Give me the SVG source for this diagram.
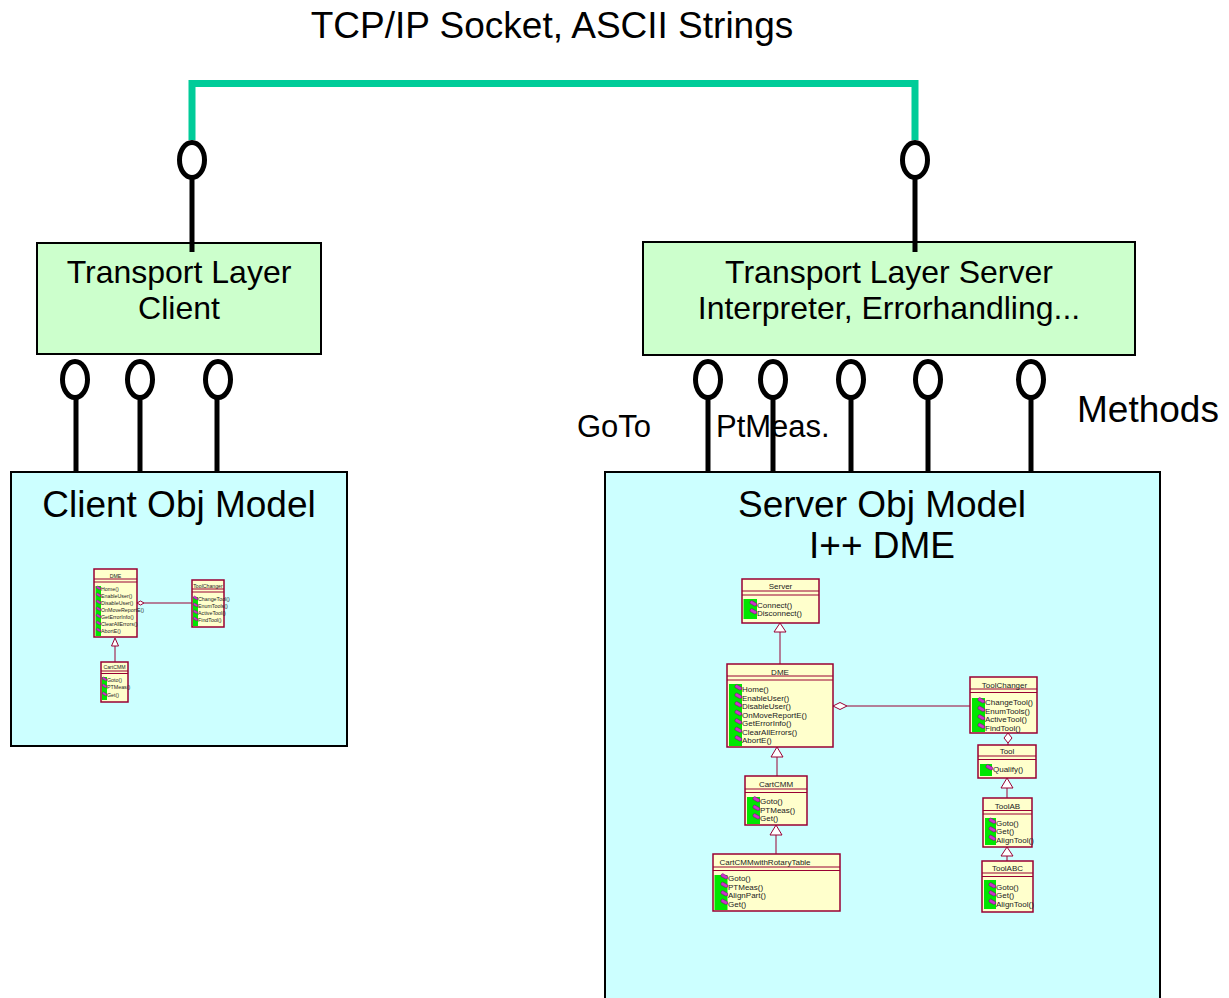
<svg xmlns="http://www.w3.org/2000/svg" width="1229" height="998" viewBox="0 0 1229 998">
<style>
.big{font-family:"Liberation Sans",Arial,sans-serif;font-size:37px;fill:#000}
.mid{font-family:"Liberation Sans",Arial,sans-serif;font-size:32px;fill:#000}
.lbl{font-family:"Liberation Sans",Arial,sans-serif;font-size:31px;fill:#000}
.tl{fill:#CCFFCC;stroke:#000;stroke-width:2}
.om{fill:#CCFFFF;stroke:#000;stroke-width:2}
.lol{fill:none;stroke:#000;stroke-width:5}
.cls{fill:#FFFFCC;stroke:#990033;stroke-width:1.5}
.sep{stroke:#990033;stroke-width:1}
.grn{fill:#00E600}
.nm{font-family:"Liberation Sans",Arial,sans-serif;font-size:8px;text-anchor:middle;fill:#222}
.op{font-family:"Liberation Sans",Arial,sans-serif;font-size:8px;fill:#222}
.nmS{font-family:"Liberation Sans",Arial,sans-serif;font-size:5.2px;text-anchor:middle;fill:#222}
.opS{font-family:"Liberation Sans",Arial,sans-serif;font-size:5.3px;fill:#222}
.lnk{fill:none;stroke:#990033;stroke-width:1}
.hd{fill:#fff;stroke:#990033;stroke-width:1}
</style>
<defs>
<path id="ic" d="M-7,-6.3 L-5.3,-7.5 L-0.3,-4.6 L-0.3,-2.6 L-2.3,-2 L-7,-4.6 Z" fill="#CC33CC" stroke="#770077" stroke-width="0.5"/>
<path id="icS" d="M-4.6,-4.2 L-3.5,-5 L-0.2,-3 L-0.2,-1.7 L-1.5,-1.3 L-4.6,-3 Z" fill="#CC33CC" stroke="#770077" stroke-width="0.4"/>
</defs>
<rect width="1229" height="998" fill="#fff"/>

<text class="big" x="552" y="38" text-anchor="middle">TCP/IP Socket, ASCII Strings</text>

<g id="transport-client">
<rect class="tl" x="37" y="243" width="284" height="111"/>
<text class="mid" x="179" y="283" text-anchor="middle">Transport Layer</text>
<text class="mid" x="179" y="319" text-anchor="middle">Client</text>
</g>

<g id="transport-server">
<rect class="tl" x="643" y="242" width="492" height="113"/>
<text class="mid" x="889" y="283" text-anchor="middle">Transport Layer Server</text>
<text class="mid" x="889" y="319" text-anchor="middle">Interpreter, Errorhandling...</text>
</g>

<g id="client-obj-model">
<rect class="om" x="11" y="472" width="336" height="274"/>
<text class="big" x="179" y="517" text-anchor="middle">Client Obj Model</text>
</g>

<g id="server-obj-model">
<rect class="om" x="605" y="472" width="555" height="540"/>
<text class="big" x="882" y="517" text-anchor="middle">Server Obj Model</text>
<text class="big" x="882" y="558" text-anchor="middle">I++ DME</text>
</g>

<g id="labels">
<text class="lbl" x="577" y="437">GoTo</text>
<text class="lbl" x="716" y="437">PtMeas.</text>
<text class="big" x="1077" y="422">Methods</text>
</g>

<g id="connectors">
<path d="M192,140 V83.5 H915 V140" fill="none" stroke="#00CC99" stroke-width="7"/>
<g id="lollipops">
<ellipse class="lol" cx="192" cy="160" rx="12.5" ry="17.5"/><line class="lol" x1="192" y1="178" x2="192" y2="252"/>
<ellipse class="lol" cx="915" cy="160" rx="12.5" ry="17.5"/><line class="lol" x1="915" y1="178" x2="915" y2="252"/>
<ellipse class="lol" cx="75" cy="379.5" rx="12.5" ry="18"/><line class="lol" x1="76" y1="398" x2="76" y2="472"/>
<ellipse class="lol" cx="140" cy="379.5" rx="12.5" ry="18"/><line class="lol" x1="140" y1="398" x2="140" y2="472"/>
<ellipse class="lol" cx="218" cy="379.5" rx="12.5" ry="18"/><line class="lol" x1="217" y1="398" x2="217" y2="472"/>
<ellipse class="lol" cx="708" cy="379.5" rx="12.5" ry="18"/><line class="lol" x1="708" y1="398" x2="708" y2="472"/>
<ellipse class="lol" cx="773" cy="379.5" rx="12.5" ry="18"/><line class="lol" x1="773" y1="398" x2="773" y2="472"/>
<ellipse class="lol" cx="851" cy="379.5" rx="12.5" ry="18"/><line class="lol" x1="851" y1="398" x2="851" y2="472"/>
<ellipse class="lol" cx="928" cy="379.5" rx="12.5" ry="18"/><line class="lol" x1="928" y1="398" x2="928" y2="472"/>
<ellipse class="lol" cx="1031" cy="379.5" rx="12.5" ry="18"/><line class="lol" x1="1031" y1="398" x2="1031" y2="472"/>
</g>
<g id="uml-links">
<line class="lnk" x1="780" y1="632" x2="780" y2="664"/><polygon class="hd" points="780,623 786,632 774,632"/>
<line class="lnk" x1="777" y1="757" x2="777" y2="776"/><polygon class="hd" points="777,747 783,757 771,757"/>
<line class="lnk" x1="776" y1="835" x2="776" y2="854"/><polygon class="hd" points="776,825 782,835 770,835"/>
<line class="lnk" x1="847" y1="706" x2="970" y2="706"/><polygon class="hd" points="833,706 840,702.5 847,706 840,709.5"/>
<line class="lnk" x1="1008" y1="743" x2="1008" y2="745"/><polygon class="hd" points="1008,733 1012,738 1008,743 1004,738"/>
<line class="lnk" x1="1007" y1="788" x2="1007" y2="798"/><polygon class="hd" points="1007,778 1013,788 1001,788"/>
<line class="lnk" x1="1007" y1="856" x2="1007" y2="861"/><polygon class="hd" points="1007,847 1013,856 1001,856"/>
<line class="lnk" x1="144" y1="603" x2="192" y2="603"/><polygon class="hd" points="137,603 140.5,601 144,603 140.5,605"/>
<line class="lnk" x1="115" y1="646" x2="115" y2="662"/><polygon class="hd" points="115,638 118.5,646 111.5,646"/>
</g>
</g>

<g id="uml-server-class">
<rect class="cls" x="742" y="579" width="77" height="44"/>
<line class="sep" x1="742" y1="591" x2="819" y2="591"/><line class="sep" x1="742" y1="595" x2="819" y2="595"/>
<text class="nm" x="780.5" y="589">Server</text>
<rect class="grn" x="743.5" y="599" width="13.5" height="20"/>
<use href="#ic" x="757" y="608"/><text class="op" x="757" y="608">Connect()</text>
<use href="#ic" x="757" y="616"/><text class="op" x="757" y="616">Disconnect()</text>
</g>

<g id="uml-dme">
<rect class="cls" x="727" y="664" width="106" height="83"/>
<line class="sep" x1="727" y1="676" x2="833" y2="676"/><line class="sep" x1="727" y1="680" x2="833" y2="680"/>
<text class="nm" x="780" y="674.5">DME</text>
<rect class="grn" x="729" y="684" width="13" height="62"/>
<use href="#ic" x="742" y="692"/><text class="op" x="742" y="692">Home()</text>
<use href="#ic" x="742" y="700.5"/><text class="op" x="742" y="700.5">EnableUser()</text>
<use href="#ic" x="742" y="709"/><text class="op" x="742" y="709">DisableUser()</text>
<use href="#ic" x="742" y="717.5"/><text class="op" x="742" y="717.5">OnMoveReportE()</text>
<use href="#ic" x="742" y="726"/><text class="op" x="742" y="726">GetErrorInfo()</text>
<use href="#ic" x="742" y="734.5"/><text class="op" x="742" y="734.5">ClearAllErrors()</text>
<use href="#ic" x="742" y="743"/><text class="op" x="742" y="743">AbortE()</text>
</g>

<g id="uml-toolchanger">
<rect class="cls" x="970" y="677" width="67" height="56"/>
<line class="sep" x1="970" y1="689" x2="1037" y2="689"/><line class="sep" x1="970" y1="692.5" x2="1037" y2="692.5"/>
<text class="nm" x="1004.5" y="687.5">ToolChanger</text>
<rect class="grn" x="972" y="698" width="13" height="34"/>
<use href="#ic" x="985" y="705"/><text class="op" x="985" y="705">ChangeTool()</text>
<use href="#ic" x="985" y="713.5"/><text class="op" x="985" y="713.5">EnumTools()</text>
<use href="#ic" x="985" y="722"/><text class="op" x="985" y="722">ActiveTool()</text>
<use href="#ic" x="985" y="730.5"/><text class="op" x="985" y="730.5">FindTool()</text>
</g>

<g id="uml-tool">
<rect class="cls" x="978" y="745" width="58" height="33"/>
<line class="sep" x1="978" y1="756" x2="1036" y2="756"/><line class="sep" x1="978" y1="759.5" x2="1036" y2="759.5"/>
<text class="nm" x="1007" y="754">Tool</text>
<rect class="grn" x="980" y="764" width="12" height="12"/>
<use href="#ic" x="993" y="772"/><text class="op" x="993" y="772">Qualify()</text>
</g>

<g id="uml-toolab">
<rect class="cls" x="983" y="798" width="49" height="49"/>
<line class="sep" x1="983" y1="810.5" x2="1032" y2="810.5"/><line class="sep" x1="983" y1="814" x2="1032" y2="814"/>
<text class="nm" x="1007.5" y="808.5">ToolAB</text>
<rect class="grn" x="985" y="818" width="11" height="27"/>
<use href="#ic" x="996" y="825.5"/><text class="op" x="996" y="825.5">Goto()</text>
<use href="#ic" x="996" y="834"/><text class="op" x="996" y="834">Get()</text>
<use href="#ic" x="996" y="842.5"/><text class="op" x="996" y="842.5">AlignTool()</text>
</g>

<g id="uml-toolabc">
<rect class="cls" x="982" y="861" width="51" height="51"/>
<line class="sep" x1="982" y1="873" x2="1033" y2="873"/><line class="sep" x1="982" y1="876.5" x2="1033" y2="876.5"/>
<text class="nm" x="1007.5" y="871">ToolABC</text>
<rect class="grn" x="984" y="880" width="12" height="29"/>
<use href="#ic" x="996" y="890"/><text class="op" x="996" y="890">Goto()</text>
<use href="#ic" x="996" y="898"/><text class="op" x="996" y="898">Get()</text>
<use href="#ic" x="996" y="906.5"/><text class="op" x="996" y="906.5">AlignTool()</text>
</g>

<g id="uml-cartcmm">
<rect class="cls" x="745" y="776" width="62" height="49"/>
<line class="sep" x1="745" y1="789" x2="807" y2="789"/><line class="sep" x1="745" y1="792.5" x2="807" y2="792.5"/>
<text class="nm" x="776" y="787">CartCMM</text>
<rect class="grn" x="747" y="797" width="13" height="27"/>
<use href="#ic" x="760" y="804"/><text class="op" x="760" y="804">Goto()</text>
<use href="#ic" x="760" y="812.5"/><text class="op" x="760" y="812.5">PTMeas()</text>
<use href="#ic" x="760" y="821"/><text class="op" x="760" y="821">Get()</text>
</g>

<g id="uml-cartcmm-rotary">
<rect class="cls" x="713" y="854" width="127" height="57"/>
<line class="sep" x1="713" y1="867" x2="840" y2="867"/><line class="sep" x1="713" y1="870.5" x2="840" y2="870.5"/>
<text class="nm" x="765" y="864.5">CartCMMwithRotaryTable</text>
<rect class="grn" x="714.5" y="875" width="13" height="35"/>
<use href="#ic" x="728" y="881"/><text class="op" x="728" y="881">Goto()</text>
<use href="#ic" x="728" y="889.5"/><text class="op" x="728" y="889.5">PTMeas()</text>
<use href="#ic" x="728" y="898"/><text class="op" x="728" y="898">AlignPart()</text>
<use href="#ic" x="728" y="906.5"/><text class="op" x="728" y="906.5">Get()</text>
</g>

<g id="uml-client-dme">
<rect class="cls" x="94" y="569" width="43" height="68" stroke-width="1.2"/>
<line class="sep" x1="94" y1="579" x2="137" y2="579"/><line class="sep" x1="94" y1="582" x2="137" y2="582"/>
<text class="nmS" x="115.5" y="577.5">DME</text>
<rect class="grn" x="95.5" y="586" width="5.5" height="50"/>
<use href="#icS" x="101" y="591"/><text class="opS" x="101" y="591">Home()</text>
<use href="#icS" x="101" y="598"/><text class="opS" x="101" y="598">EnableUser()</text>
<use href="#icS" x="101" y="605"/><text class="opS" x="101" y="605">DisableUser()</text>
<use href="#icS" x="101" y="612"/><text class="opS" x="101" y="612">OnMoveReportE()</text>
<use href="#icS" x="101" y="619"/><text class="opS" x="101" y="619">GetErrorInfo()</text>
<use href="#icS" x="101" y="626"/><text class="opS" x="101" y="626">ClearAllErrors()</text>
<use href="#icS" x="101" y="633"/><text class="opS" x="101" y="633">AbortE()</text>
</g>

<g id="uml-client-toolchanger">
<rect class="cls" x="192" y="580" width="32" height="47" stroke-width="1.2"/>
<line class="sep" x1="192" y1="589" x2="224" y2="589"/><line class="sep" x1="192" y1="592" x2="224" y2="592"/>
<text class="nmS" x="208" y="587.5">ToolChanger</text>
<rect class="grn" x="193" y="597" width="5" height="29"/>
<use href="#icS" x="198" y="601"/><text class="opS" x="198" y="601">ChangeTool()</text>
<use href="#icS" x="198" y="608"/><text class="opS" x="198" y="608">EnumTools()</text>
<use href="#icS" x="198" y="615"/><text class="opS" x="198" y="615">ActiveTool()</text>
<use href="#icS" x="198" y="622"/><text class="opS" x="198" y="622">FindTool()</text>
</g>

<g id="uml-client-cartcmm">
<rect class="cls" x="101" y="662" width="27" height="40" stroke-width="1.2"/>
<line class="sep" x1="101" y1="671" x2="128" y2="671"/><line class="sep" x1="101" y1="673.5" x2="128" y2="673.5"/>
<text class="nmS" x="114.5" y="669">CartCMM</text>
<rect class="grn" x="102" y="677" width="5" height="23"/>
<use href="#icS" x="107" y="682"/><text class="opS" x="107" y="682">Goto()</text>
<use href="#icS" x="107" y="689"/><text class="opS" x="107" y="689">PTMeas()</text>
<use href="#icS" x="107" y="697"/><text class="opS" x="107" y="697">Get()</text>
</g>
</svg>
